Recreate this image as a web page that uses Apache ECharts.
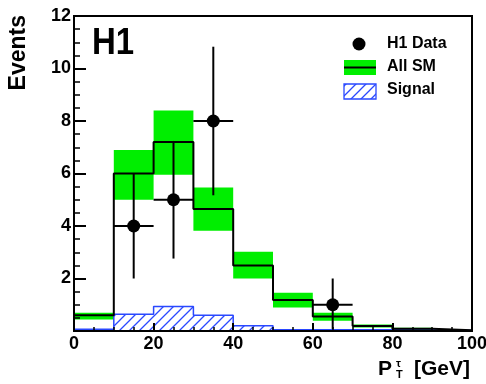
<!DOCTYPE html>
<html><head><meta charset="utf-8">
<script src="https://cdn.jsdelivr.net/npm/echarts@6/dist/echarts.min.js"></script>
<style>html,body{margin:0;padding:0;background:#fff}#c{width:486px;height:384px}</style>
</head><body><div id="c"></div>
<script>
// ---- data ----
const binEdges = [0, 10, 20, 30, 40, 50, 60, 70, 80, 90, 100];
const smValues = [0.6, 6.0, 7.2, 4.65, 2.5, 1.18, 0.55, 0.19, 0.09, 0.03];
const smLow    = [0.44, 5.0, 5.95, 3.82, 2.0, 0.9, 0.39, 0.13, 0.05, 0.01];
const smHigh   = [0.7, 6.9, 8.4, 5.47, 3.02, 1.46, 0.7, 0.25, 0.12, 0.04];
const signalValues = [0.07, 0.64, 0.93, 0.6, 0.2, 0.05, 0.05, 0.05, 0.04, 0.02];
const dataX = [15, 25, 35, 65];
const dataY = [4, 5, 8, 1];
const dataErrLow = [2.0, 2.24, 2.83, 1.0];
const dataErrHigh = [2.0, 2.24, 2.83, 1.0];
const dataHalfWidth = [5, 5, 5, 5];

const FONT = "'Liberation Sans', Arial, Helvetica, sans-serif";
const GREEN = '#00ee00';
const BLUE = '#2a48ff';
const TICK = '#000';

function stepData(vals) {
  const d = vals.map((v, i) => [binEdges[i], v]);
  d.push([binEdges[binEdges.length - 1], vals[vals.length - 1]]);
  return d;
}

const hatch = document.createElement('canvas');
hatch.width = 10; hatch.height = 10;
const g = hatch.getContext('2d');
g.fillStyle = '#fff'; g.fillRect(0, 0, 10, 10);
g.strokeStyle = BLUE; g.lineWidth = 1.3;
g.beginPath();
g.moveTo(0, 10); g.lineTo(10, 0);
g.moveTo(-5, 5); g.lineTo(5, -5);
g.moveTo(5, 15); g.lineTo(15, 5);
g.stroke();

const bandData = smValues.map((v, i) => [binEdges[i], binEdges[i + 1], smLow[i], smHigh[i]]);
const pointData = dataX.map((x, i) => [x, dataY[i], dataErrLow[i], dataErrHigh[i], dataHalfWidth[i]]);

const chart = echarts.init(document.getElementById('c'));
chart.setOption({
  animation: false,
  grid: {left: 74, right: 14, top: 16, bottom: 53, show: true, borderColor: '#000', borderWidth: 2, outerBoundsMode: 'none', z: 10},
  xAxis: {
    type: 'value', min: 0, max: 100, interval: 20, z: 10,
    axisLine: {show: true, lineStyle: {color: '#000', width: 2}},
    axisTick: {show: true, inside: true, length: 8, lineStyle: {color: TICK, width: 2}},
    minorTick: {show: true, splitNumber: 4, length: 4, lineStyle: {color: TICK, width: 1.5}},
    splitLine: {show: false},
    axisLabel: {color: '#000', fontSize: 18, fontWeight: 'bold', fontFamily: FONT, margin: 4}
  },
  yAxis: {
    type: 'value', min: 0, max: 12, interval: 2, z: 10,
    axisLine: {show: true, lineStyle: {color: '#000', width: 2}},
    axisTick: {show: true, inside: true, length: 12, lineStyle: {color: TICK, width: 2}},
    minorTick: {show: true, splitNumber: 4, length: 6, lineStyle: {color: TICK, width: 1.5}},
    splitLine: {show: false},
    axisLabel: {color: '#000', fontSize: 18, fontWeight: 'bold', fontFamily: FONT, margin: 3, showMinLabel: false}
  },
  series: [
    {
      type: 'custom', name: 'SM band', data: bandData,
      renderItem: (params, api) => {
        const p0 = api.coord([api.value(0), api.value(3)]);
        const p1 = api.coord([api.value(1), api.value(2)]);
        return {type: 'rect', shape: {x: p0[0], y: p0[1], width: p1[0] - p0[0], height: p1[1] - p0[1]},
                style: {fill: GREEN}};
      }
    },
    {
      type: 'line', name: 'Signal', step: 'end', symbol: 'none', data: stepData(signalValues),
      lineStyle: {color: BLUE, width: 1.5},
      areaStyle: {color: {image: hatch, repeat: 'repeat'}, opacity: 1}
    },
    {
      type: 'line', name: 'All SM', step: 'end', symbol: 'none', data: stepData(smValues),
      lineStyle: {color: '#000', width: 2}
    },
    {
      type: 'custom', name: 'H1 Data', data: pointData,
      renderItem: (params, api) => {
        const x = api.value(0), y = api.value(1);
        const pLo = api.coord([x, y - api.value(2)]);
        const pHi = api.coord([x, y + api.value(3)]);
        const pL = api.coord([x - api.value(4), y]);
        const pR = api.coord([x + api.value(4), y]);
        const c = api.coord([x, y]);
        return {type: 'group', children: [
          {type: 'line', shape: {x1: pLo[0], y1: pLo[1], x2: pHi[0], y2: pHi[1]}, style: {stroke: '#000', lineWidth: 2}},
          {type: 'line', shape: {x1: pL[0], y1: pL[1], x2: pR[0], y2: pR[1]}, style: {stroke: '#000', lineWidth: 2}},
          {type: 'circle', shape: {cx: c[0], cy: c[1], r: 6.5}, style: {fill: '#000'}}
        ]};
      }
    }
  ],
  graphic: [
    {type: 'text', x: 19, y: 15, rotation: Math.PI / 2,
     style: {text: 'Events', fontSize: 23, fontWeight: 'bold', fontFamily: FONT, fill: '#000', align: 'right', verticalAlign: 'middle'}},
    {type: 'text', x: 92, y: 44, scaleY: 1.12,
     style: {text: 'H1', fontSize: 33, fontWeight: 'bold', fontFamily: FONT, fill: '#000', align: 'left', verticalAlign: 'middle'}},
    {type: 'text', x: 378, y: 369,
     style: {text: 'P', fontSize: 21, fontWeight: 'bold', fontFamily: FONT, fill: '#000', align: 'left', verticalAlign: 'middle'}},
    {type: 'text', x: 396, y: 364,
     style: {text: 'τ', fontSize: 11, fontWeight: 'bold', fontFamily: FONT, fill: '#000', align: 'left', verticalAlign: 'middle'}},
    {type: 'text', x: 396, y: 375,
     style: {text: 'T', fontSize: 11, fontWeight: 'bold', fontFamily: FONT, fill: '#000', align: 'left', verticalAlign: 'middle'}},
    {type: 'text', x: 470, y: 369,
     style: {text: '[GeV]', fontSize: 21, fontWeight: 'bold', fontFamily: FONT, fill: '#000', align: 'right', verticalAlign: 'middle'}},
    {type: 'circle', shape: {cx: 359, cy: 44, r: 6.5}, style: {fill: '#000'}},
    {type: 'text', x: 387, y: 44,
     style: {text: 'H1 Data', fontSize: 16, fontWeight: 'bold', fontFamily: FONT, fill: '#000', align: 'left', verticalAlign: 'middle'}},
    {type: 'rect', shape: {x: 344, y: 60, width: 32, height: 15}, style: {fill: GREEN}},
    {type: 'line', shape: {x1: 344, y1: 67.5, x2: 376, y2: 67.5}, style: {stroke: '#000', lineWidth: 2}},
    {type: 'text', x: 387, y: 67,
     style: {text: 'All SM', fontSize: 16, fontWeight: 'bold', fontFamily: FONT, fill: '#000', align: 'left', verticalAlign: 'middle'}},
    {type: 'rect', shape: {x: 344, y: 84, width: 32, height: 15},
     style: {fill: {image: hatch, repeat: 'repeat'}, stroke: BLUE, lineWidth: 1.3}},
    {type: 'text', x: 387, y: 90,
     style: {text: 'Signal', fontSize: 16, fontWeight: 'bold', fontFamily: FONT, fill: '#000', align: 'left', verticalAlign: 'middle'}}
  ]
});
</script>
</body></html>
